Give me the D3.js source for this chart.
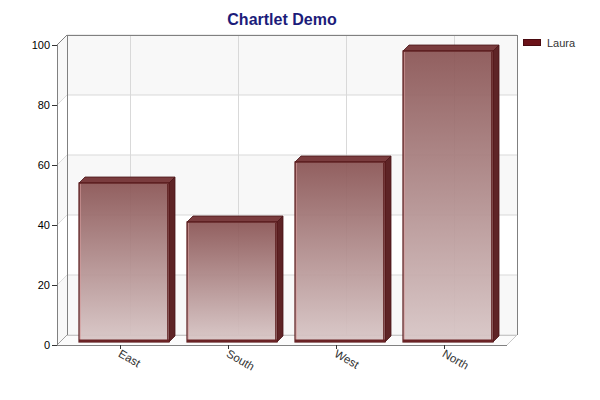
<!DOCTYPE html>
<html><head><meta charset="utf-8">
<script src="https://cdn.jsdelivr.net/npm/d3@7"></script>
<style>html,body{margin:0;padding:0;background:#fff;}svg{display:block;}</style>
</head><body>
<svg id="c" width="600" height="400"></svg>
<script>
const categories = ["East", "South", "West", "North"];
const seriesName = "Laura";
const values = [53, 40, 60, 97];
const yTicks = [0, 20, 40, 60, 80, 100];
const title = "Chartlet Demo";

const svg = d3.select("#c");
const X0 = 57, X1 = 507, Y0 = 345, Y1 = 45, D = 10;
const x = d3.scaleBand().domain(categories).range([X0, X1]).paddingInner(1/6).paddingOuter(1/6);
const y = d3.scaleLinear().domain([0, 100]).range([Y0, Y1]);

const defs = svg.append("defs");
const grad = defs.append("linearGradient").attr("id", "barg").attr("x1", 0).attr("y1", 0).attr("x2", 0).attr("y2", 1);
grad.append("stop").attr("offset", "0%").attr("stop-color", "#8a5454");
grad.append("stop").attr("offset", "100%").attr("stop-color", "#d8c6c6");

// title
svg.append("text").attr("x", 282).attr("y", 25).attr("text-anchor", "middle")
  .attr("font-family", "Liberation Sans, Arial, sans-serif").attr("font-size", 16).attr("font-weight", "bold")
  .attr("fill", "#1c1c7a").text(title);

// back wall
const g = svg.append("g");
g.append("rect").attr("x", X0 + D).attr("y", Y1 - D).attr("width", X1 - X0).attr("height", Y0 - Y1).attr("fill", "#fff");
// bands
for (let i = 0; i < yTicks.length - 1; i++) {
  const a = yTicks[i], b = yTicks[i + 1];
  const fill = (i % 2 === 0) ? "#f8f8f8" : "#ffffff";
  g.append("rect").attr("x", X0 + D).attr("y", y(b) - D).attr("width", X1 - X0).attr("height", y(a) - y(b)).attr("fill", fill);
  g.append("polygon").attr("points", [[X0, y(a)], [X0 + D, y(a) - D], [X0 + D, y(b) - D], [X0, y(b)]].join(" ")).attr("fill", fill);
}
// floor
g.append("polygon").attr("points", [[X0, Y0], [X1, Y0], [X1 + D, Y0 - D], [X0 + D, Y0 - D]].join(" ")).attr("fill", "#fbfbfb");

// grid lines
yTicks.forEach(t => {
  g.append("line").attr("x1", X0 + D).attr("x2", X1 + D).attr("y1", y(t) - D).attr("y2", y(t) - D).attr("stroke", "#d9d9d9");
  g.append("line").attr("x1", X0).attr("x2", X0 + D).attr("y1", y(t)).attr("y2", y(t) - D).attr("stroke", "#dcdcdc");
});
categories.forEach(c => {
  const cx = Math.round(x(c) + x.bandwidth() / 2) + D + 0.5;
  g.append("line").attr("x1", cx).attr("x2", cx).attr("y1", Y1 - D).attr("y2", Y0 - D).attr("stroke", "#d9d9d9");
});

// box edges
const edge = (x1, y1, x2, y2, col) => g.append("line").attr("x1", x1).attr("y1", y1).attr("x2", x2).attr("y2", y2).attr("stroke", col || "#808080");
edge(X0 + D + 0.5, Y1 - D, X0 + D + 0.5, Y0 - D);
edge(X0 + D, Y1 - D + 0.5, X1 + D, Y1 - D + 0.5);
edge(X1 + D + 0.5, Y1 - D, X1 + D + 0.5, Y0 - D);
edge(X0, Y1, X0 + D, Y1 - D);
edge(X0 + D, Y0 - D + 0.5, X1 + D, Y0 - D + 0.5, "#c8c8c8");
edge(X1, Y0, X1 + D, Y0 - D, "#c8c8c8");
edge(X0, Y0, X0 + D, Y0 - D, "#a0a0a0");
edge(X0, Y0 + 0.5, X1, Y0 + 0.5);
edge(X0 + 0.5, Y1, X0 + 0.5, Y0);

// y axis ticks + labels
yTicks.forEach(t => {
  svg.append("line").attr("x1", X0 - 5).attr("x2", X0).attr("y1", y(t) + 0.5).attr("y2", y(t) + 0.5).attr("stroke", "#333");
  svg.append("text").attr("x", X0 - 7).attr("y", y(t) + 4).attr("text-anchor", "end")
    .attr("font-family", "Liberation Sans, Arial, sans-serif").attr("font-size", 11).attr("fill", "#000").text(t);
});

// bars
const bd = 6, sx = 4, sy = 3;
const bw = x.bandwidth();
categories.forEach((c, i) => {
  const v = values[i];
  const bx = x(c) + sx, bt = y(v) - sy, bb = y(0) - sy;
  const bg = svg.append("g");
  bg.append("polygon").attr("points", [[bx + bw, bt], [bx + bw + bd, bt - bd], [bx + bw + bd, bb - bd], [bx + bw, bb]].join(" "))
    .attr("fill", "#5e2426").attr("stroke", "#4a1416").attr("stroke-width", 0.8);
  bg.append("polygon").attr("points", [[bx, bt], [bx + bd, bt - bd], [bx + bw + bd, bt - bd], [bx + bw, bt]].join(" "))
    .attr("fill", "#7a3c3e").attr("stroke", "#4a1416").attr("stroke-width", 0.8);
  bg.append("rect").attr("x", bx).attr("y", bt).attr("width", bw).attr("height", bb - bt)
    .attr("fill", "url(#barg)").attr("fill-opacity", 0.93).attr("stroke", "#5a1a1c").attr("stroke-width", 1.2);
  bg.append("line").attr("x1", bx + 1.5).attr("x2", bx + 1.5).attr("y1", bt + 1).attr("y2", bb - 2).attr("stroke", "#d59a9a").attr("stroke-opacity", 0.6);
  bg.append("line").attr("x1", bx + bw - 1.5).attr("x2", bx + bw - 1.5).attr("y1", bt + 1).attr("y2", bb - 1).attr("stroke", "#5a1a1c").attr("stroke-opacity", 0.8);
  bg.append("rect").attr("x", bx).attr("y", bb - 2.5).attr("width", bw).attr("height", 2.5).attr("fill", "#6a2224");
});

// x ticks + labels
categories.forEach(c => {
  const cx = Math.round(x(c) + bw / 2) + 0.5;
  svg.append("line").attr("x1", cx).attr("x2", cx).attr("y1", Y0).attr("y2", Y0 + 4).attr("stroke", "#333");
  svg.append("text").attr("transform", `translate(${cx - 3},${Y0 + 11}) rotate(30)`)
    .attr("font-family", "Liberation Sans, Arial, sans-serif").attr("font-size", 11.5).attr("fill", "#333").text(c);
});

// legend
svg.append("rect").attr("x", 523.5).attr("y", 39.5).attr("width", 17).attr("height", 6).attr("fill", "#6b1219").attr("stroke", "#4a0a10");
svg.append("text").attr("x", 547).attr("y", 47).attr("font-family", "Liberation Sans, Arial, sans-serif").attr("font-size", 11).attr("fill", "#333").text(seriesName);
</script>
</body></html>
